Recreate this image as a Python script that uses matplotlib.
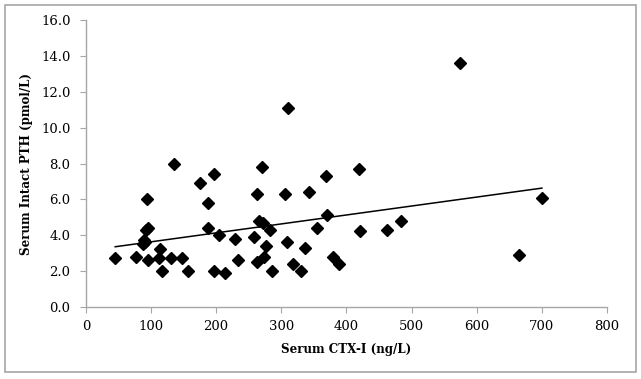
import numpy as np
import matplotlib
matplotlib.use("Agg")
import matplotlib.pyplot as plt
from matplotlib.patches import Rectangle

# -------------------------
# Data
# -------------------------
ctx = [45, 77, 87, 89, 90, 92, 95, 94, 96, 112, 113, 117, 130, 135, 148, 156,
       175, 187, 188, 197, 197, 204, 213, 229, 233, 258, 262, 263, 266, 270,
       272, 274, 277, 283, 286, 306, 308, 310, 318, 330, 336, 343, 355, 369,
       370, 380, 388, 420, 421, 462, 483, 575, 665, 700]
pth = [2.7, 2.8, 3.5, 3.7, 3.6, 4.3, 4.4, 6.0, 2.6, 2.7, 3.2, 2.0, 2.7, 8.0, 2.7, 2.0,
       6.9, 4.4, 5.8, 7.4, 2.0, 4.0, 1.9, 3.8, 2.6, 3.9, 6.3, 2.5, 4.8, 7.8,
       4.7, 2.8, 3.4, 4.3, 2.0, 6.3, 3.6, 11.1, 2.4, 2.0, 3.3, 6.4, 4.4, 7.3,
       5.1, 2.8, 2.4, 7.7, 4.2, 4.3, 4.8, 13.6, 2.9, 6.1]

x_ticks = [0, 100, 200, 300, 400, 500, 600, 700, 800]
y_ticks = [0, 2, 4, 6, 8, 10, 12, 14, 16]

# linear trend line
slope, intercept = np.polyfit(ctx, pth, 1)
trend_x = np.array([min(ctx), max(ctx)])
trend_y = slope * trend_x + intercept

# -------------------------
# Plot
# -------------------------
plt.rcParams['font.family'] = ['DejaVu Serif']

fig = plt.figure(figsize=(6.41, 3.79), dpi=100)
ax = fig.add_axes([0.134, 0.191, 0.813, 0.755])

ax.plot(trend_x, trend_y, color='black', linewidth=1.1, zorder=2)
ax.plot(ctx, pth, linestyle='none', marker='D', markersize=6.6,
        color='black', zorder=3)

ax.set_xlim(0, 800)
ax.set_ylim(0, 16)
ax.set_xticks(x_ticks)
ax.set_yticks(y_ticks)
ax.set_yticklabels([f"{v:.1f}" for v in y_ticks])

for side in ['top', 'right']:
    ax.spines[side].set_visible(False)
for side in ['left', 'bottom']:
    ax.spines[side].set_color('#a6a6a6')
    ax.spines[side].set_linewidth(1.0)
ax.tick_params(axis='both', direction='out', length=4, color='#a6a6a6',
               labelsize=9.5, labelcolor='black')
ax.tick_params(axis='x', pad=6)
ax.tick_params(axis='y', pad=7)

ax.set_xlabel("Serum CTX-I (ng/L)", fontsize=8.6, fontweight='bold', labelpad=7)
ax.set_ylabel("Serum Intact PTH (pmol/L)", fontsize=8.6, fontweight='bold', labelpad=6)

# outer frame
fig.patches.append(Rectangle((0.008, 0.018), 0.984, 0.970, transform=fig.transFigure,
                             fill=False, edgecolor='#a6a6a6', linewidth=1.2))

fig.savefig("out.png", dpi=100)
